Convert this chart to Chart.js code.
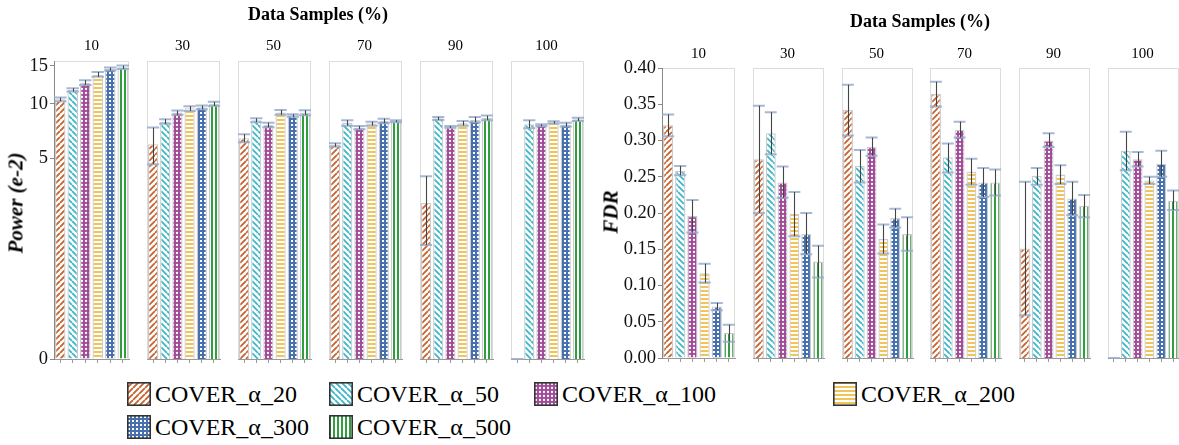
<!DOCTYPE html>
<html><head><meta charset="utf-8">
<script src="https://cdn.jsdelivr.net/npm/chart.js@4.4.1/dist/chart.umd.min.js"></script>
<style>
body{margin:0;background:#fff;}
#root{position:relative;width:1179px;height:445px;overflow:hidden;background:#fff;font-family:'Liberation Serif','Times New Roman',serif;color:#000;}
canvas.panel{position:absolute;}
.t{position:absolute;transform:translate(-50%,-50%);white-space:nowrap;line-height:1;}
.sw{position:absolute;}
</style></head>
<body><div id="root"></div>
<script>
// ---------------- data ----------------
const samples = ['10', '30', '50', '70', '90', '100'];
const seriesNames = ['COVER_α_20', 'COVER_α_50', 'COVER_α_100', 'COVER_α_200', 'COVER_α_300', 'COVER_α_500'];
const powerTicks = [0, 5, 10, 15];
const fdrTicks = [0, 0.05, 0.10, 0.15, 0.20, 0.25, 0.30, 0.35, 0.40];

// Power (e-2): mean, lower and upper error per data-sample level
const powerA20 = [10.55, 6.08, 6.58, 6.02, 2.41, 0];
const powerA20Lo = [10.32, 4.58, 6.24, 5.88, 0.97, 0];
const powerA20Hi = [10.74, 7.54, 6.94, 6.16, 3.81, 0];
const powerA50 = [11.68, 8.12, 8.26, 8.00, 8.46, 7.86];
const powerA50Lo = [11.47, 7.90, 8.07, 7.73, 8.29, 7.49];
const powerA50Hi = [11.90, 8.37, 8.46, 8.26, 8.60, 8.26];
const powerA100 = [12.62, 9.05, 7.80, 7.54, 7.61, 7.77];
const powerA100Lo = [12.32, 8.81, 7.57, 7.39, 7.52, 7.67];
const powerA100Hi = [12.95, 9.26, 8.02, 7.70, 7.70, 7.86];
const powerA200 = [13.67, 9.52, 9.05, 7.93, 7.97, 8.02];
const powerA200Lo = [13.40, 9.23, 8.81, 7.73, 7.73, 7.93];
const powerA200Hi = [14.09, 9.75, 9.33, 8.12, 8.19, 8.16];
const powerA300 = [14.52, 9.64, 8.77, 8.19, 8.29, 7.83];
const powerA300Lo = [14.29, 9.42, 8.62, 7.97, 8.07, 7.65];
const powerA300Hi = [14.72, 9.82, 8.88, 8.42, 8.60, 8.02];
const powerA500 = [14.77, 10.01, 9.05, 8.16, 8.50, 8.37];
const powerA500Lo = [14.52, 9.77, 8.77, 8.07, 8.26, 8.19];
const powerA500Hi = [15.01, 10.24, 9.30, 8.26, 8.73, 8.50];

// FDR
const fdrA20 = [0.321, 0.274, 0.342, 0.364, 0.151, 0];
const fdrA20Lo = [0.306, 0.200, 0.307, 0.347, 0.059, 0];
const fdrA20Hi = [0.336, 0.348, 0.377, 0.381, 0.243, 0];
const fdrA50 = [0.258, 0.310, 0.265, 0.277, 0.251, 0.286];
const fdrA50Lo = [0.252, 0.281, 0.242, 0.256, 0.239, 0.259];
const fdrA50Hi = [0.265, 0.339, 0.287, 0.296, 0.262, 0.312];
const fdrA100 = [0.196, 0.242, 0.291, 0.315, 0.300, 0.274];
const fdrA100Lo = [0.173, 0.221, 0.279, 0.304, 0.291, 0.264];
const fdrA100Hi = [0.218, 0.264, 0.304, 0.326, 0.310, 0.284];
const fdrA200 = [0.117, 0.199, 0.164, 0.257, 0.253, 0.245];
const fdrA200Lo = [0.104, 0.168, 0.144, 0.239, 0.240, 0.240];
const fdrA200Hi = [0.130, 0.229, 0.184, 0.275, 0.266, 0.250];
const fdrA300 = [0.071, 0.171, 0.193, 0.242, 0.220, 0.268];
const fdrA300Lo = [0.066, 0.143, 0.180, 0.222, 0.197, 0.250];
const fdrA300Hi = [0.076, 0.200, 0.206, 0.262, 0.243, 0.286];
const fdrA500 = [0.035, 0.133, 0.171, 0.242, 0.210, 0.217];
const fdrA500Lo = [0.0225, 0.111, 0.148, 0.224, 0.194, 0.204];
const fdrA500Hi = [0.046, 0.155, 0.194, 0.260, 0.225, 0.231];

const powerMeans = [powerA20, powerA50, powerA100, powerA200, powerA300, powerA500];
const powerLows = [powerA20Lo, powerA50Lo, powerA100Lo, powerA200Lo, powerA300Lo, powerA500Lo];
const powerHighs = [powerA20Hi, powerA50Hi, powerA100Hi, powerA200Hi, powerA300Hi, powerA500Hi];
const fdrMeans = [fdrA20, fdrA50, fdrA100, fdrA200, fdrA300, fdrA500];
const fdrLows = [fdrA20Lo, fdrA50Lo, fdrA100Lo, fdrA200Lo, fdrA300Lo, fdrA500Lo];
const fdrHighs = [fdrA20Hi, fdrA50Hi, fdrA100Hi, fdrA200Hi, fdrA300Hi, fdrA500Hi];

// ---------------- power scale ----------------
const POW_EXP = 0.345;
const tf = v => Math.pow(Math.max(v, 0), POW_EXP);
const itf = p => Math.pow(Math.max(p, 0), 1 / POW_EXP);
class PowScale extends Chart.LinearScale {
  static id = 'pow';
  static defaults = {};
  configure() { super.configure(); this._pMin = tf(this.min); this._pMax = tf(this.max); }
  getPixelForValue(v) {
    if (v === null || v === undefined) return NaN;
    return this.getPixelForDecimal((tf(v) - this._pMin) / (this._pMax - this._pMin));
  }
  getValueForPixel(px) {
    const d = this.getDecimalForPixel(px);
    return itf(this._pMin + d * (this._pMax - this._pMin));
  }
}
Chart.register(PowScale);

// ---------------- patterns ----------------
const COLORS = ['#c8612c', '#3cb7c9', '#a04a98', '#f2c457', '#4671ae', '#2f9e3f'];
function tile(size, draw) {
  const c = document.createElement('canvas');
  c.width = size; c.height = size;
  const g = c.getContext('2d');
  g.fillStyle = '#fff'; g.fillRect(0, 0, size, size);
  draw(g, size);
  return c;
}
const tiles = [
  tile(6, (g, s) => { g.strokeStyle = COLORS[0]; g.lineWidth = 1.8; g.beginPath();
    for (let k = -1; k <= 1; k++) { g.moveTo(k * s, s); g.lineTo(k * s + s, 0); } g.stroke(); }),
  tile(6, (g, s) => { g.strokeStyle = COLORS[1]; g.lineWidth = 1.8; g.beginPath();
    for (let k = -1; k <= 1; k++) { g.moveTo(k * s, 0); g.lineTo(k * s + s, s); } g.stroke(); }),
  tile(4, (g, s) => { g.fillStyle = COLORS[2]; g.fillRect(0, 0, s, s); g.fillStyle = '#fff';
    g.beginPath(); g.arc(2, 2, 1.15, 0, Math.PI * 2); g.fill(); }),
  tile(4, (g, s) => { g.fillStyle = COLORS[3]; g.fillRect(0, 0, s, 2); }),
  tile(4, (g, s) => { g.fillStyle = COLORS[4]; g.fillRect(0, 0, s, s); g.fillStyle = '#fff'; g.fillRect(1, 1, 2, 2); }),
  tile(4, (g, s) => { g.fillStyle = COLORS[5]; g.fillRect(0, 0, 2, s); })
];
const patCtx = document.createElement('canvas').getContext('2d');
const patterns = tiles.map(t => patCtx.createPattern(t, 'repeat'));

// ---------------- plugins ----------------
const boxPlugin = {
  id: 'panelBox',
  beforeDraw(chart) {
    const a = chart.chartArea, ctx = chart.ctx;
    ctx.save(); ctx.strokeStyle = '#dcdcdc'; ctx.lineWidth = 1;
    ctx.strokeRect(Math.round(a.left) + 0.5, Math.round(a.top) + 0.5, Math.round(a.right - a.left) - 1, Math.round(a.bottom - a.top));
    ctx.restore();
  }
};
const errPlugin = {
  id: 'errBars',
  afterDatasetsDraw(chart) {
    const ctx = chart.ctx, ds = chart.data.datasets[0], meta = chart.getDatasetMeta(0), ys = chart.scales.y;
    meta.data.forEach((el, i) => {
      const yl = ys.getPixelForValue(ds.errLo[i]);
      const yh = ys.getPixelForValue(ds.errHi[i]);
      const hw = el.width / 2 + 1;
      ctx.save();
      ctx.strokeStyle = 'rgba(150,172,205,0.85)'; ctx.lineWidth = 2;
      ctx.beginPath();
      ctx.moveTo(el.x - hw, yh); ctx.lineTo(el.x + hw, yh);
      ctx.moveTo(el.x - hw, yl); ctx.lineTo(el.x + hw, yl);
      ctx.stroke();
      if (Math.abs(yl - yh) > 0.5) {
        ctx.strokeStyle = '#444'; ctx.lineWidth = 1.1;
        const cx = Math.round(el.x) + 0.5;
        ctx.beginPath(); ctx.moveTo(cx, yh); ctx.lineTo(cx, yl); ctx.stroke();
      }
      ctx.restore();
    });
  }
};

// ---------------- layout ----------------
const root = document.getElementById('root');
function addText(txt, x, y, style) {
  const d = document.createElement('div');
  d.className = 't'; d.textContent = txt;
  d.style.left = x + 'px'; d.style.top = y + 'px';
  Object.assign(d.style, style || {});
  root.appendChild(d);
  return d;
}

function makePanel(cfg) {
  const { x, y, w, h, first, axisW, isPower, j } = cfg;
  const L = first ? axisW : 2, T = 14, R = 2, B = 10, PB = 6;
  const cv = document.createElement('canvas');
  cv.className = 'panel';
  cv.width = w + L + R; cv.height = h + T + B + PB;
  cv.style.left = (x - L) + 'px'; cv.style.top = (y - T) + 'px';
  cv.style.width = cv.width + 'px'; cv.style.height = cv.height + 'px';
  root.appendChild(cv);
  const means = isPower ? powerMeans : fdrMeans;
  const lows = isPower ? powerLows : fdrLows;
  const highs = isPower ? powerHighs : fdrHighs;
  const yScale = isPower ? {
    type: 'pow', min: 0, max: 15.7,
    afterBuildTicks: s => { s.ticks = powerTicks.map(v => ({ value: v })); },
  } : {
    type: 'linear', min: 0, max: 0.4,
    afterBuildTicks: s => { s.ticks = fdrTicks.map(v => ({ value: v })); },
  };
  Object.assign(yScale, {
    display: first,
    border: { display: true, color: '#888', width: 1 },
    grid: { display: true, drawOnChartArea: false, drawTicks: true, tickLength: 4, color: '#888' },
    ticks: {
      font: { family: "'Liberation Serif', serif", size: 18.5 }, color: '#111', padding: 2,
      autoSkip: false,
      callback: v => isPower ? String(Math.round(v)) : Number(v).toFixed(2)
    },
    afterFit: s => { s.width = L; s.paddingTop = 0; s.paddingBottom = 0; }
  });
  new Chart(cv, {
    type: 'bar',
    data: {
      labels: seriesNames,
      datasets: [{
        data: means.map(a => a[j]),
        errLo: lows.map(a => a[j]),
        errHi: highs.map(a => a[j]),
        backgroundColor: patterns,
        borderColor: '#cbcbcb',
        borderWidth: 1.3,
        barPercentage: 0.84,
        categoryPercentage: 1.0
      }]
    },
    options: {
      responsive: false, animation: false, devicePixelRatio: 1,
      layout: { padding: { left: first ? 0 : L, right: R, top: T, bottom: PB } },
      plugins: { legend: { display: false }, tooltip: { enabled: false } },
      scales: {
        x: {
          offset: true,
          border: { display: true, color: '#999', width: 1 },
          grid: { display: true, offset: false, drawOnChartArea: false, drawTicks: true, tickLength: 4, color: '#999' },
          ticks: { display: false },
          afterFit: s => { s.height = B; s.paddingLeft = 0; s.paddingRight = 0; }
        },
        y: yScale
      }
    },
    plugins: [boxPlugin, errPlugin]
  });
}

// left facet (Power)
const leftX0 = 54, leftStep = 91, leftW = 75, leftTop = 61, leftH = 298;
samples.forEach((s, j) => {
  makePanel({ x: leftX0 + j * leftStep, y: leftTop, w: leftW, h: leftH, first: j === 0, axisW: 54, isPower: true, j });
  addText(s, leftX0 + j * leftStep + leftW / 2, 44.5, { fontSize: '15px' });
});
// right facet (FDR)
const rightX0 = 662, rightStep = 88.8, rightW = 73, rightTop = 68, rightH = 290;
samples.forEach((s, j) => {
  makePanel({ x: Math.round(rightX0 + j * rightStep), y: rightTop, w: rightW, h: rightH, first: j === 0, axisW: 50, isPower: false, j });
  addText(s, Math.round(rightX0 + j * rightStep) + rightW / 2, 52.5, { fontSize: '15px' });
});

addText('Data Samples (%)', 318, 14, { fontSize: '18px', fontWeight: 'bold' });
addText('Data Samples (%)', 920, 21, { fontSize: '18px', fontWeight: 'bold' });
addText('Power (e-2)', 16, 203, { fontSize: '21px', fontWeight: 'bold', fontStyle: 'italic', transform: 'translate(-50%,-50%) rotate(-90deg)' });
addText('FDR', 611, 212, { fontSize: '21px', fontWeight: 'bold', fontStyle: 'italic', transform: 'translate(-50%,-50%) rotate(-90deg)' });

// legend
const legPos = [[127, 382], [329, 382], [534, 382], [833, 382], [127, 415], [329, 415]];
seriesNames.forEach((name, i) => {
  const [lx, ly] = legPos[i];
  const c = document.createElement('canvas');
  c.className = 'sw'; c.width = 24; c.height = 24;
  c.style.left = lx + 'px'; c.style.top = ly + 'px';
  const g = c.getContext('2d');
  g.fillStyle = g.createPattern(tiles[i], 'repeat'); g.fillRect(0, 0, 24, 24);
  g.strokeStyle = '#333'; g.lineWidth = 1.6; g.strokeRect(0.8, 0.8, 22.4, 22.4);
  root.appendChild(c);
  const d = document.createElement('div');
  d.textContent = name;
  Object.assign(d.style, { position: 'absolute', left: (lx + 28) + 'px', top: (ly + 12) + 'px', transform: 'translateY(-50%)', fontSize: '24px', lineHeight: '1', whiteSpace: 'nowrap' });
  root.appendChild(d);
});
</script></body></html>
